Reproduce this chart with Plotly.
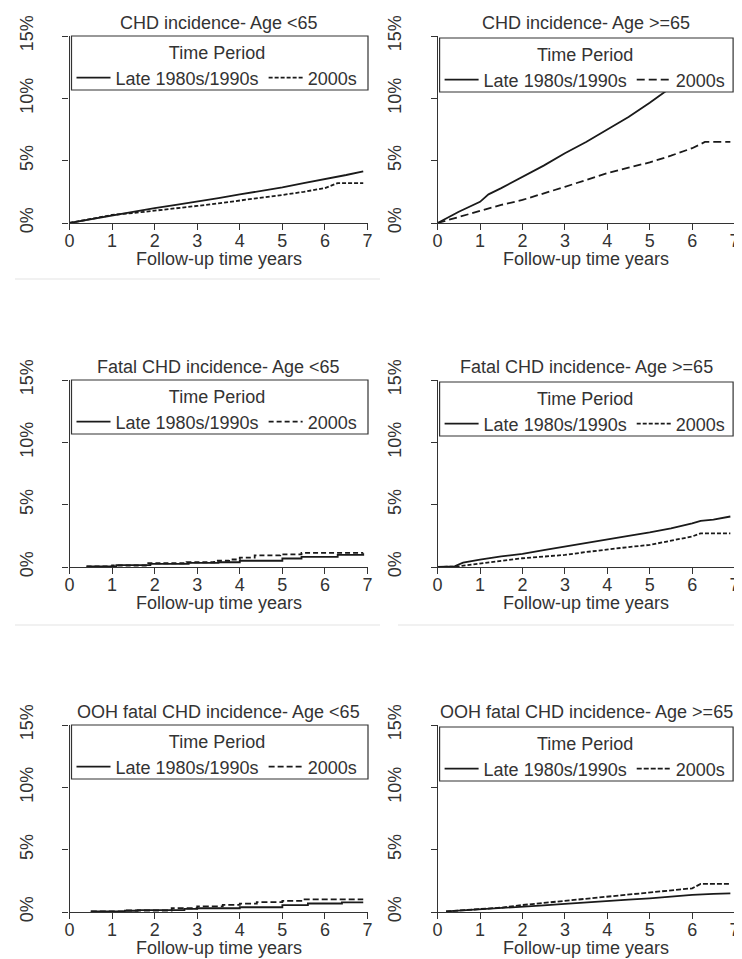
import plotly.graph_objects as go

PAGE_W, PAGE_H = 742, 959
OFF = 8                      # default body margin of the html page
W, H = PAGE_W - OFF, PAGE_H - OFF
FONT = "Liberation Sans, Arial, sans-serif"
TXT = "#333333"

# ---------------- data (cumulative incidence, %) ----------------
titles = [
    "CHD incidence- Age <65", "CHD incidence- Age >=65",
    "Fatal CHD incidence- Age <65", "Fatal CHD incidence- Age >=65",
    "OOH fatal CHD incidence- Age <65", "OOH fatal CHD incidence- Age >=65",
]
series_names = ["Late 1980s/1990s", "2000s"]
x_ticks = [0, 1, 2, 3, 4, 5, 6, 7]
y_ticks = [0, 5, 10, 15]
y_ticklabels = ["0%", "5%", "10%", "15%"]

# CHD incidence, age <65
chd_young_late_t = [0, 0.5, 1, 1.5, 2, 2.5, 3, 3.5, 4, 4.5, 5, 5.5, 6, 6.5, 6.9]
chd_young_late_v = [0, 0.3, 0.65, 0.95, 1.2, 1.45, 1.7, 2.0, 2.3, 2.55, 2.85, 3.2, 3.5, 3.85, 4.15]
chd_young_2000_t = [0, 0.5, 1, 1.5, 2, 2.5, 3, 3.5, 4, 4.5, 5, 5.5, 6, 6.3, 6.9]
chd_young_2000_v = [0, 0.3, 0.65, 0.8, 0.97, 1.15, 1.37, 1.58, 1.8, 2.0, 2.25, 2.5, 2.8, 3.2, 3.2]

# CHD incidence, age >=65
chd_old_late_t = [0, 0.5, 1, 1.2, 1.5, 2, 2.5, 3, 3.5, 4, 4.5, 5, 5.5, 6, 6.5, 6.9]
chd_old_late_v = [0, 0.9, 1.7, 2.3, 2.8, 3.7, 4.6, 5.6, 6.5, 7.5, 8.5, 9.65, 10.9, 12.1, 13.2, 14.0]
chd_old_2000_t = [0, 0.5, 1, 1.5, 2, 2.5, 3, 3.5, 4, 4.5, 5, 5.5, 6, 6.3, 6.9]
chd_old_2000_v = [0, 0.5, 1.0, 1.45, 1.85, 2.35, 2.9, 3.45, 4.0, 4.45, 4.86, 5.4, 6.0, 6.5, 6.5]

# Fatal CHD incidence, age <65
fatal_young_late_t = [0.4, 1.1, 1.9, 2.8, 3.5, 4.0, 5.0, 5.45, 6.3, 6.9]
fatal_young_late_v = [0.05, 0.15, 0.25, 0.33, 0.38, 0.5, 0.68, 0.82, 0.97, 1.1]
fatal_young_2000_t = [0.4, 1.0, 1.85, 2.75, 3.4, 3.75, 4.0, 4.35, 4.95, 5.45, 6.9]
fatal_young_2000_v = [0.05, 0.12, 0.3, 0.38, 0.5, 0.6, 0.75, 0.94, 1.02, 1.13, 1.13]

# Fatal CHD incidence, age >=65
fatal_old_late_t = [0, 0.4, 0.6, 1, 1.5, 2, 2.5, 3, 3.5, 4, 4.5, 5, 5.5, 6, 6.2, 6.5, 6.9]
fatal_old_late_v = [0, 0.05, 0.35, 0.6, 0.85, 1.05, 1.35, 1.65, 1.95, 2.25, 2.5, 2.77, 3.1, 3.5, 3.7, 3.8, 4.05]
fatal_old_2000_t = [0, 0.5, 0.7, 1, 1.5, 2, 2.5, 3, 3.5, 4, 4.5, 5, 5.5, 6, 6.2, 6.9]
fatal_old_2000_v = [0, 0.05, 0.15, 0.3, 0.5, 0.7, 0.85, 0.97, 1.2, 1.42, 1.6, 1.77, 2.1, 2.45, 2.7, 2.7]

# OOH fatal CHD incidence, age <65
ooh_young_late_t = [0.5, 1.3, 1.6, 2.7, 3.0, 4.0, 5.0, 5.6, 6.4, 6.9]
ooh_young_late_v = [0.05, 0.1, 0.15, 0.25, 0.3, 0.38, 0.55, 0.68, 0.78, 0.78]
ooh_young_2000_t = [0.5, 1.3, 2.4, 3.0, 3.6, 4.0, 4.4, 5.0, 5.5, 6.9]
ooh_young_2000_v = [0.05, 0.12, 0.3, 0.45, 0.57, 0.67, 0.8, 0.9, 1.02, 1.02]

# OOH fatal CHD incidence, age >=65
ooh_old_late_t = [0.2, 1, 1.5, 2, 2.5, 3, 3.5, 4, 4.5, 5, 5.5, 6, 6.5, 6.9]
ooh_old_late_v = [0.05, 0.2, 0.33, 0.43, 0.53, 0.65, 0.78, 0.9, 1.0, 1.1, 1.25, 1.37, 1.45, 1.5]
ooh_old_2000_t = [0.2, 1, 1.5, 2, 2.5, 3, 3.5, 4, 4.5, 5, 5.5, 6, 6.2, 6.9]
ooh_old_2000_v = [0.05, 0.2, 0.35, 0.56, 0.73, 0.9, 1.05, 1.24, 1.4, 1.56, 1.72, 1.9, 2.25, 2.25]

panel_data = [
    (chd_young_late_t, chd_young_late_v, chd_young_2000_t, chd_young_2000_v),
    (chd_old_late_t, chd_old_late_v, chd_old_2000_t, chd_old_2000_v),
    (fatal_young_late_t, fatal_young_late_v, fatal_young_2000_t, fatal_young_2000_v),
    (fatal_old_late_t, fatal_old_late_v, fatal_old_2000_t, fatal_old_2000_v),
    (ooh_young_late_t, ooh_young_late_v, ooh_young_2000_t, ooh_young_2000_v),
    (ooh_old_late_t, ooh_old_late_v, ooh_old_2000_t, ooh_old_2000_v),
]

# ---------------- styling / layout ----------------
dashes = ["4px,2px", "8px,4px", "5px,3px", "4px,2px", "6px,3px", "5px,2px"]
shapes_line = ["linear", "linear", "hv", "linear", "hv", "linear"]

col_px = [(69.5, 367.5), (437.6, 734.6)]     # plot left/right, page pixels
row_bottom_px = [223, 567, 912]               # y of 0%, page pixels
plot_h = 187
legend_h = 54


def px_x(p):
    return (p - OFF) / W


def px_y(p):
    return 1 - (p - OFF) / H


fig = go.Figure()
layout = dict(
    width=W, height=H,
    margin=dict(l=0, r=0, t=0, b=0, autoexpand=False),
    paper_bgcolor="white", plot_bgcolor="white",
    font=dict(family=FONT, size=18, color=TXT),
    annotations=[], shapes=[],
)

for i in range(6):
    r, c = divmod(i, 2)
    k = i + 1
    xs = "" if k == 1 else str(k)
    lg = "legend" if k == 1 else f"legend{k}"
    x0, x1 = col_px[c]
    yb = row_bottom_px[r]
    yt = yb - plot_h
    t1, v1, t2, v2 = panel_data[i]

    fig.add_trace(go.Scatter(
        x=t1, y=v1, mode="lines", name=series_names[0],
        line=dict(color="#1a1a1a", width=1.8, shape=shapes_line[i]),
        xaxis=f"x{xs}", yaxis=f"y{xs}", legend=lg, showlegend=True,
    ))
    fig.add_trace(go.Scatter(
        x=t2, y=v2, mode="lines", name=series_names[1],
        line=dict(color="#1a1a1a", width=1.8, dash=dashes[i], shape=shapes_line[i]),
        xaxis=f"x{xs}", yaxis=f"y{xs}", legend=lg, showlegend=True,
    ))

    layout[f"xaxis{xs}"] = dict(
        domain=[px_x(x0), px_x(x1)], range=[0, 7], anchor=f"y{xs}",
        tickvals=x_ticks, ticks="outside", ticklen=6, tickcolor="#333",
        showline=True, linecolor="#333", linewidth=1.2,
        showgrid=False, zeroline=False, automargin=False,
        ticklabelstandoff=-5,
        tickfont=dict(size=18, color=TXT, family=FONT),
    )
    layout[f"yaxis{xs}"] = dict(
        domain=[px_y(yb), px_y(yt)], range=[0, 15], anchor=f"x{xs}",
        tickvals=y_ticks, ticktext=y_ticklabels, tickangle=-90,
        ticks="outside", ticklen=6, tickcolor="#333",
        showline=True, linecolor="#333", linewidth=1.2,
        showgrid=False, zeroline=False, automargin=False, ticklabelstandoff=22,
        tickfont=dict(size=18, color=TXT, family=FONT),
    )
    bx0 = x0 + 2
    bx1 = x1 + 0.5 if c == 0 else x1 - 1.5
    by0 = yt + (0 if c == 0 else 2)
    layout[lg] = dict(
        title=dict(text="Time Period", side="top center",
                   font=dict(size=18, color=TXT, family=FONT)),
        orientation="h",
        x=px_x(bx0), y=px_y(by0), xanchor="left", yanchor="top",
        xref="paper", yref="paper",
        bgcolor="rgba(0,0,0,0)", borderwidth=0,
        font=dict(size=18, color=TXT, family=FONT),
        itemwidth=34, tracegroupgap=0,
    )
    # legend frame (white box that hides lines beneath it)
    layout["shapes"].append(dict(
        type="rect", xref="paper", yref="paper", layer="above",
        x0=px_x(bx0), x1=px_x(bx1), y0=px_y(by0 + legend_h), y1=px_y(by0),
        fillcolor="white", line=dict(color="#333", width=1.2),
    ))
    cx = (x0 + x1) / 2
    layout["annotations"].append(dict(
        text=titles[i], x=px_x(cx), y=px_y(yt - 13), xref="paper", yref="paper",
        xanchor="center", yanchor="middle", showarrow=False,
        font=dict(size=18, color=TXT, family=FONT),
    ))
    layout["annotations"].append(dict(
        text="Follow-up time years", x=px_x(cx), y=px_y(yb + 36), xref="paper", yref="paper",
        xanchor="center", yanchor="middle", showarrow=False,
        font=dict(size=18, color=TXT, family=FONT),
    ))

# faint separator lines visible in the source image
for (sx0, sx1, sy) in [(15, 380, 279), (15, 380, 625), (398, 742, 625)]:
    layout["shapes"].append(dict(
        type="line", xref="paper", yref="paper",
        x0=px_x(sx0), x1=px_x(sx1), y0=px_y(sy), y1=px_y(sy),
        line=dict(color="#ececec", width=1.5),
    ))

fig.update_layout(**layout)
fig.write_html("out.html")
